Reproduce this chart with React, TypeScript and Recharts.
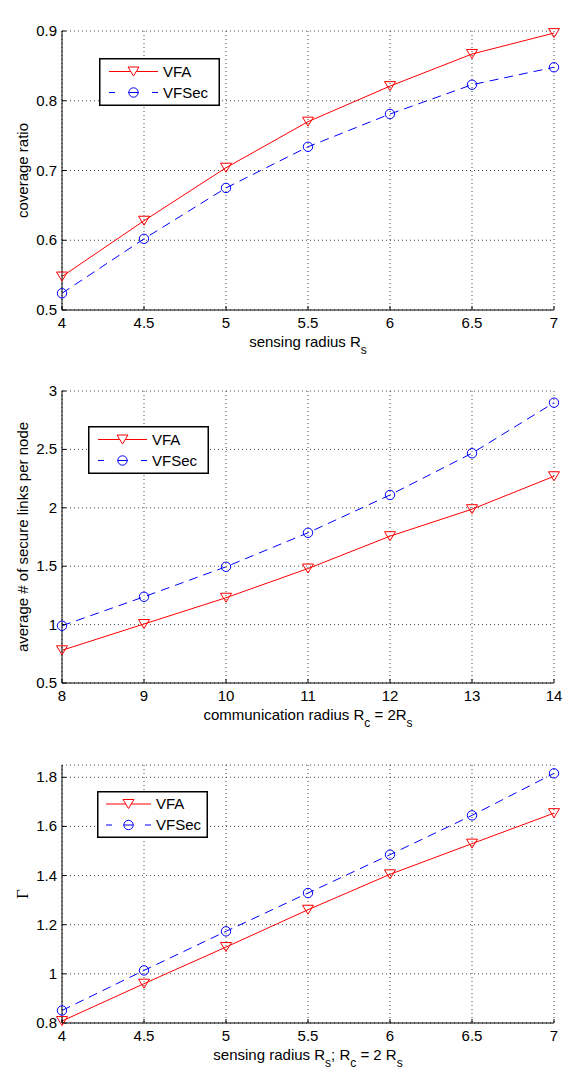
import React from "react";
import { LineChart, Line, XAxis, YAxis, CartesianGrid, Legend, Label } from "recharts";

// sensing radius Rs and communication radius Rc = 2Rs
const radiusRs = [4, 4.5, 5, 5.5, 6, 6.5, 7];
const radiusRc = [8, 9, 10, 11, 12, 13, 14];

const coverageVFA = [0.548, 0.628, 0.704, 0.77, 0.821, 0.867, 0.897];
const coverageVFSec = [0.524, 0.602, 0.675, 0.734, 0.781, 0.823, 0.848];

const linksVFA = [0.78, 1.005, 1.23, 1.48, 1.757, 1.988, 2.27];
const linksVFSec = [0.99, 1.238, 1.495, 1.786, 2.11, 2.467, 2.9];

const gammaVFA = [0.808, 0.96, 1.109, 1.261, 1.405, 1.53, 1.654];
const gammaVFSec = [0.851, 1.014, 1.173, 1.329, 1.485, 1.645, 1.816];

const coverageTicks = [0.5, 0.6, 0.7, 0.8, 0.9];
const linksTicks = [0.5, 1, 1.5, 2, 2.5, 3];
const gammaTicks = [0.8, 1, 1.2, 1.4, 1.6, 1.8];

const RED = "#ff0000";
const BLUE = "#0000ff";
const DASH = "9 6";
const SANS = "'Liberation Sans', Arial, Helvetica, sans-serif";
const SERIF = "'Liberation Serif', 'Times New Roman', serif";
const FS = 15;
const txt = { fontSize: FS, fontFamily: SANS, fill: "#000" };

type Row = { x: number; vfa: number; vfsec: number };

const makeRows = (xs: number[], a: number[], b: number[]): Row[] =>
  xs.map((x, i) => ({ x, vfa: a[i], vfsec: b[i] }));

const triPath = (cx: number, cy: number) =>
  `M${cx - 5.5},${cy - 4.5}L${cx + 5.5},${cy - 4.5}L${cx},${cy + 4.5}Z`;

const TriangleDot = (p: any) => (
  <path key={`tri-${p.index}`} d={triPath(p.cx, p.cy)} fill="none" stroke={RED} strokeWidth={1} />
);

const CircleDot = (p: any) => (
  <circle key={`cir-${p.index}`} cx={p.cx} cy={p.cy} r={4.7} fill="none" stroke={BLUE} strokeWidth={1} />
);

const BottomTick = (p: any) => (
  <text x={p.x} y={p.y + 9.5} textAnchor="middle" style={txt}>
    {p.payload.value}
  </text>
);

const LeftTick = (p: any) => (
  <text x={p.x} y={p.y + 5} textAnchor="end" style={txt}>
    {p.payload.value}
  </text>
);

interface LegendBox {
  left: number;
  top: number;
  w: number;
  h: number;
  lineX1: number;
  lineX2: number;
  textX: number;
}

function MatlabLegend({ payload, box }: { payload?: any[]; box: LegendBox }) {
  const items = payload || [];
  const mid = (box.lineX1 + box.lineX2) / 2;
  return (
    <svg width={box.w} height={box.h} style={{ display: "block" }}>
      <rect x={0.75} y={0.75} width={box.w - 1.5} height={box.h - 1.5} fill="#fff" stroke="#000" strokeWidth={1.5} />
      {items.map((item, i) => {
        const y = box.h / 2 + (i === 0 ? -10.5 : 10.5);
        const dashed = item.value === "VFSec";
        return (
          <g key={item.value}>
            {dashed ? (
              <>
                <line x1={box.lineX1} x2={box.lineX1 + 6} y1={y} y2={y} stroke={BLUE} />
                <line x1={mid - 5} x2={mid + 5} y1={y} y2={y} stroke={BLUE} />
                <line x1={box.lineX2 - 6} x2={box.lineX2} y1={y} y2={y} stroke={BLUE} />
                <circle cx={mid} cy={y} r={4.7} fill="none" stroke={BLUE} />
              </>
            ) : (
              <>
                <line x1={box.lineX1} x2={box.lineX2} y1={y} y2={y} stroke={RED} />
                <path d={triPath(mid, y)} fill="#fff" stroke={RED} />
              </>
            )}
            <text x={box.textX} y={y + 5.3} style={txt}>
              {item.value}
            </text>
          </g>
        );
      })}
    </svg>
  );
}

interface PanelProps {
  top: number;
  height: number;
  marginTop: number;
  xAxisHeight: number;
  rows: Row[];
  xDomain: [number, number];
  xTicks: number[];
  yDomain: [number, number];
  yTicks: number[];
  title: React.ReactNode;
  titleOffset: number;
  xLabel: React.ReactNode;
  yLabel: React.ReactNode;
  legend: LegendBox;
}

function Panel(props: PanelProps) {
  const { top, height, marginTop, xAxisHeight, rows, xDomain, xTicks, yDomain, yTicks, legend } = props;

  return (
    <div style={{ position: "absolute", left: 0, top }}>
      <LineChart width={570} height={height} data={rows} margin={{ top: marginTop, right: 16, bottom: 0, left: 0 }}>
        <CartesianGrid stroke="#444" strokeDasharray="1 3" />
        <XAxis
          dataKey="x"
          type="number"
          domain={xDomain}
          ticks={xTicks}
          interval={0}
          height={xAxisHeight}
          stroke="#000"
          tickSize={-4}
          tickMargin={12}
          tick={BottomTick}
        >
          <Label
            content={({ viewBox }: any) => (
              <text x={viewBox.x + viewBox.width / 2} y={viewBox.y + 36.5} textAnchor="middle" style={txt}>
                {props.xLabel}
              </text>
            )}
          />
        </XAxis>
        <XAxis
          xAxisId="top"
          orientation="top"
          dataKey="x"
          type="number"
          domain={xDomain}
          ticks={xTicks}
          interval={0}
          height={0}
          stroke="#000"
          tickSize={-4}
          tick={false}
        >
          <Label
            content={({ viewBox }: any) => (
              <text x={viewBox.x + viewBox.width / 2} y={viewBox.y - props.titleOffset} textAnchor="middle" style={txt}>
                {props.title}
              </text>
            )}
          />
        </XAxis>
        <YAxis
          type="number"
          domain={yDomain}
          ticks={yTicks}
          interval={0}
          width={62}
          stroke="#000"
          tickSize={-4}
          tickMargin={9}
          tick={LeftTick}
        >
          <Label
            content={({ viewBox }: any) => {
              const cx = viewBox.x + 22;
              const cy = viewBox.y + viewBox.height / 2;
              return (
                <text
                  x={cx}
                  y={cy}
                  transform={`rotate(-90 ${cx} ${cy})`}
                  textAnchor="middle"
                  dominantBaseline="central"
                  style={txt}
                >
                  {props.yLabel}
                </text>
              );
            }}
          />
        </YAxis>
        <YAxis
          yAxisId="right"
          orientation="right"
          type="number"
          domain={yDomain}
          ticks={yTicks}
          interval={0}
          width={0}
          stroke="#000"
          tickSize={-4}
          tick={false}
        />
        <Legend
          layout="vertical"
          align="center"
          verticalAlign="middle"
          wrapperStyle={{ left: legend.left, top: legend.top, width: legend.w, height: legend.h }}
          content={(p: any) => <MatlabLegend payload={p.payload} box={legend} />}
        />
        <Line
          name="VFA"
          dataKey="vfa"
          type="linear"
          stroke={RED}
          strokeWidth={1}
          dot={TriangleDot}
          activeDot={false}
          isAnimationActive={false}
        />
        <Line
          name="VFSec"
          dataKey="vfsec"
          type="linear"
          stroke={BLUE}
          strokeWidth={1}
          strokeDasharray={DASH}
          dot={CircleDot}
          activeDot={false}
          isAnimationActive={false}
        />
      </LineChart>
    </div>
  );
}

const SUB_DY = 7;
const subStyle = { fontSize: 12 };

export default function App() {
  return (
    <div
      style={{
        position: "absolute",
        left: 0,
        top: 0,
        width: 570,
        height: 1068,
        background: "#fff",
        fontFamily: SANS,
      }}
    >
      <Panel
        top={0}
        height={360}
        marginTop={31}
        xAxisHeight={50}
        rows={makeRows(radiusRs, coverageVFA, coverageVFSec)}
        xDomain={[4, 7]}
        xTicks={radiusRs}
        yDomain={[0.5, 0.9]}
        yTicks={coverageTicks}
        title="Coverage Ratio Comparison"
        titleOffset={12}
        xLabel={
          <>
            <tspan>sensing radius R</tspan>
            <tspan dy={SUB_DY} style={subStyle}>s</tspan>
          </>
        }
        yLabel="coverage ratio"
        legend={{ left: 99, top: 58, w: 121, h: 48, lineX1: 10, lineX2: 59, textX: 64 }}
      />
      <Panel
        top={345}
        height={390}
        marginTop={46}
        xAxisHeight={52}
        rows={makeRows(radiusRc, linksVFA, linksVFSec)}
        xDomain={[8, 14]}
        xTicks={radiusRc}
        yDomain={[0.5, 3]}
        yTicks={linksTicks}
        title="Number of Secure Link Comparison"
        titleOffset={12}
        xLabel={
          <>
            <tspan>communication radius R</tspan>
            <tspan dy={SUB_DY} style={subStyle}>c</tspan>
            <tspan dy={-SUB_DY}> = 2R</tspan>
            <tspan dy={SUB_DY} style={subStyle}>s</tspan>
          </>
        }
        yLabel="average # of secure links per node"
        legend={{ left: 88, top: 81, w: 121, h: 48, lineX1: 10, lineX2: 59, textX: 64 }}
      />
      <Panel
        top={725}
        height={343}
        marginTop={40}
        xAxisHeight={45}
        rows={makeRows(radiusRs, gammaVFA, gammaVFSec)}
        xDomain={[4, 7]}
        xTicks={radiusRs}
        yDomain={[0.8, 1.85]}
        yTicks={gammaTicks}
        title={
          <>
            <tspan>Overall Performance </tspan>
            <tspan style={{ fontFamily: SERIF, fontSize: 16 }}>Γ</tspan>
          </>
        }
        titleOffset={14}
        xLabel={
          <>
            <tspan>sensing radius R</tspan>
            <tspan dy={SUB_DY} style={subStyle}>s</tspan>
            <tspan dy={-SUB_DY}>; R</tspan>
            <tspan dy={SUB_DY} style={subStyle}>c</tspan>
            <tspan dy={-SUB_DY}> = 2 R</tspan>
            <tspan dy={SUB_DY} style={subStyle}>s</tspan>
          </>
        }
        yLabel={<tspan style={{ fontFamily: SERIF, fontSize: 17 }}>Γ</tspan>}
        legend={{ left: 97, top: 66, w: 111, h: 47, lineX1: 9, lineX2: 54, textX: 59 }}
      />
    </div>
  );
}
